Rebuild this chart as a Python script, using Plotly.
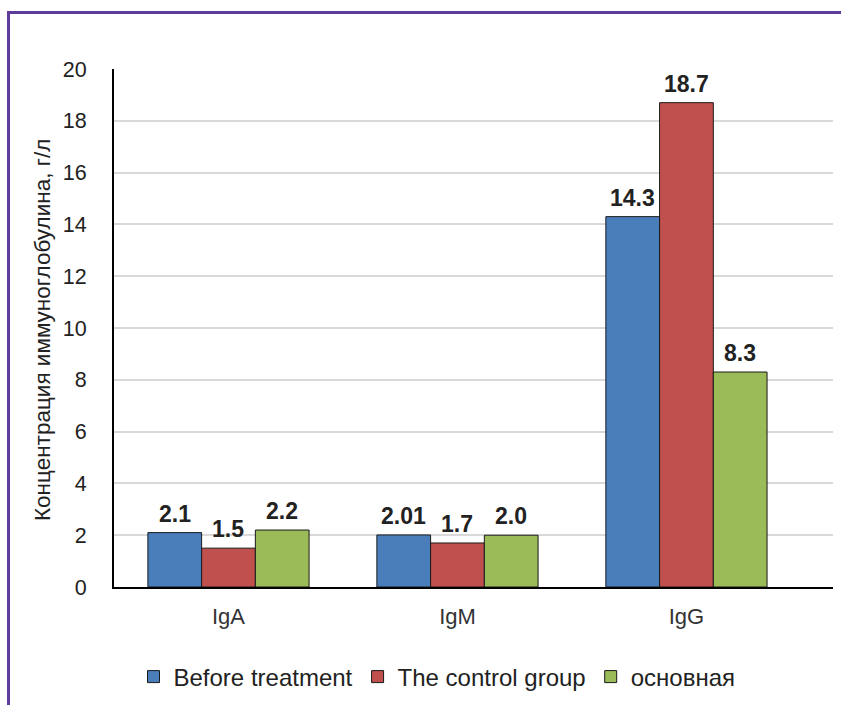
import plotly.graph_objects as go

# Immunoglobulin concentrations (g/L) by group
categories = ["IgA", "IgM", "IgG"]
series_names = ["Before treatment", "The control group", "основная"]
before_treatment = [2.1, 2.01, 14.3]
control_group = [1.5, 1.7, 18.7]
main_group = [2.2, 2.0, 8.3]
value_labels = [
    ["2.1", "2.01", "14.3"],
    ["1.5", "1.7", "18.7"],
    ["2.2", "2.0", "8.3"],
]
y_ticks = list(range(0, 21, 2))

colors = ["#4a7ebb", "#c0504d", "#9bbb59"]
series_values = [before_treatment, control_group, main_group]

FONT = "Liberation Sans, Arial, sans-serif"
W, H = 841, 705
L, R, T, B = 114, 8, 69, 118
plot_w = W - L - R
plot_h = H - T - B


def px_to_paper_x(px):
    return (px - L) / plot_w


def px_to_paper_y(py):
    return (H - B - py) / plot_h


fig = go.Figure()
for name, vals, col in zip(series_names, series_values, colors):
    fig.add_trace(go.Bar(
        name=name,
        x=categories,
        y=vals,
        marker=dict(color=col, line=dict(color="#1a1a1a", width=1)),
    ))

# Bold value labels above each bar
group_frac = 0.704
bar_w = group_frac / len(series_names)
annotations = []
for si, (vals, labs) in enumerate(zip(series_values, value_labels)):
    offset = (si - 1) * bar_w
    for ci, (v, lab) in enumerate(zip(vals, labs)):
        annotations.append(dict(
            x=ci + offset, y=v, xref="x", yref="y",
            text=f"<b>{lab}</b>", showarrow=False,
            xanchor="center", yanchor="middle", yshift=19,
            font=dict(family=FONT, size=23, color="#222222"),
        ))

# Y-axis title
annotations.append(dict(
    x=px_to_paper_x(42), y=px_to_paper_y(330), xref="paper", yref="paper",
    xanchor="center", yanchor="middle",
    text="Концентрация иммуноглобулина, г/л", showarrow=False, textangle=-90,
    font=dict(family=FONT, size=22.5, color="#222222"),
))

frame_color = "#603c9a"
shapes = [
    # frame lines along the top and left edges
    dict(type="line", xref="paper", yref="paper",
         x0=px_to_paper_x(7), x1=px_to_paper_x(W + 5),
         y0=px_to_paper_y(12.5), y1=px_to_paper_y(12.5),
         line=dict(color=frame_color, width=3)),
    dict(type="line", xref="paper", yref="paper",
         x0=px_to_paper_x(8.5), x1=px_to_paper_x(8.5),
         y0=px_to_paper_y(11), y1=px_to_paper_y(H + 5),
         line=dict(color=frame_color, width=3)),
]

fig.update_layout(
    width=W, height=H, autosize=False,
    margin=dict(l=L, r=R, t=T, b=B, pad=0, autoexpand=False),
    paper_bgcolor="white", plot_bgcolor="white",
    barmode="group", bargap=1 - group_frac, bargroupgap=0,
    font=dict(family=FONT, size=21, color="#222222"),
    xaxis=dict(
        range=[-0.5, 2.64], automargin=False,
        showline=True, linecolor="black", linewidth=2,
        showgrid=False, ticks="", ticklabelstandoff=9,
        tickfont=dict(size=22, color="#333333"),
    ),
    yaxis=dict(
        range=[0, 20], tickvals=y_ticks, automargin=False,
        showline=True, linecolor="black", linewidth=2,
        showgrid=True, gridcolor="#d9d9d9", gridwidth=1.5,
        zeroline=False, ticks="", ticklabelstandoff=21,
        tickfont=dict(size=21.5, color="#222222"),
    ),
    legend=dict(
        orientation="h", x=px_to_paper_x(437), xanchor="center",
        y=px_to_paper_y(677), yanchor="middle",
        font=dict(size=24, color="#222222"),
        itemwidth=30, tracegroupgap=0,
    ),
    annotations=annotations,
    shapes=shapes,
)

fig.write_html("out.html")
